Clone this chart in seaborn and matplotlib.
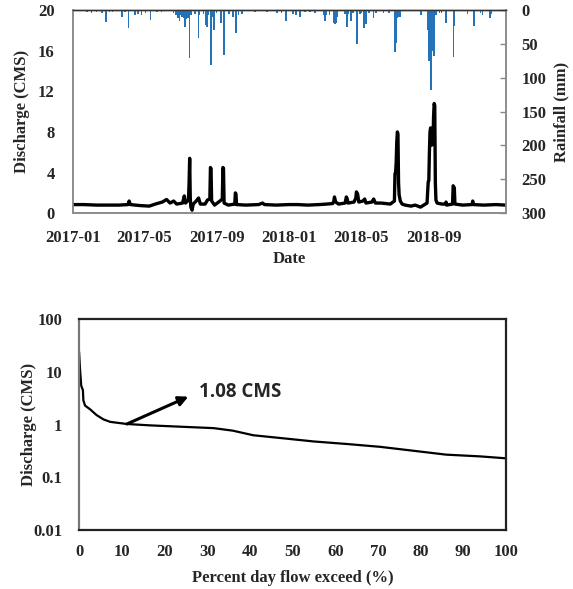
import numpy as np
import pandas as pd
import matplotlib
matplotlib.use("Agg")
import matplotlib.pyplot as plt
import matplotlib.dates as mdates
import seaborn as sns

# ---------------- data ----------------
q_dates = [
    "2017-01-01", "2017-01-20", "2017-02-10", "2017-03-01", "2017-03-20", "2017-04-04", "2017-04-06",
    "2017-04-08", "2017-04-25", "2017-05-10", "2017-05-20", "2017-06-01", "2017-06-08", "2017-06-14",
    "2017-06-20", "2017-06-25", "2017-07-05", "2017-07-08", "2017-07-10", "2017-07-15", "2017-07-16",
    "2017-07-17", "2017-07-18", "2017-07-19", "2017-07-21", "2017-07-23", "2017-07-28", "2017-08-01",
    "2017-08-04", "2017-08-12", "2017-08-16", "2017-08-20", "2017-08-21", "2017-08-22", "2017-08-23",
    "2017-08-28", "2017-09-06", "2017-09-10", "2017-09-11", "2017-09-12", "2017-09-13", "2017-09-20",
    "2017-10-01", "2017-10-02", "2017-10-03", "2017-10-04", "2017-10-20", "2017-11-10", "2017-11-17",
    "2017-11-20", "2017-12-10", "2017-12-31",
    "2018-01-15", "2018-02-01", "2018-02-20", "2018-03-05", "2018-03-15", "2018-03-17", "2018-03-18",
    "2018-03-20", "2018-03-25", "2018-04-05", "2018-04-07", "2018-04-08", "2018-04-10", "2018-04-20",
    "2018-04-23", "2018-04-24", "2018-04-26", "2018-04-28", "2018-05-05", "2018-05-08", "2018-05-10",
    "2018-05-20", "2018-05-23", "2018-05-26", "2018-06-05", "2018-06-20", "2018-06-27", "2018-06-28",
    "2018-06-29", "2018-06-30", "2018-07-01", "2018-07-02", "2018-07-03", "2018-07-04", "2018-07-05",
    "2018-07-07", "2018-07-10", "2018-07-15", "2018-07-25", "2018-08-01", "2018-08-10", "2018-08-21",
    "2018-08-23", "2018-08-24", "2018-08-25", "2018-08-26", "2018-08-27", "2018-08-28", "2018-08-29",
    "2018-08-30", "2018-08-31", "2018-09-01", "2018-09-02", "2018-09-03", "2018-09-04", "2018-09-05",
    "2018-09-07", "2018-09-15", "2018-09-21", "2018-09-22", "2018-09-23", "2018-10-03", "2018-10-04",
    "2018-10-05", "2018-10-06", "2018-10-07", "2018-10-20", "2018-11-05", "2018-11-06", "2018-11-07",
    "2018-11-25", "2018-12-15", "2018-12-31",
]
q_values = [
    0.85, 0.85, 0.8, 0.8, 0.8, 0.85, 1.2,
    0.85, 0.75, 0.7, 0.9, 1.1, 1.35, 1.0,
    1.2, 0.9, 1.0, 1.7, 1.0, 1.3, 3.0,
    5.4, 1.5, 0.6, 0.3, 0.9, 1.2, 1.5,
    0.9, 0.9, 1.3, 1.4, 4.5, 4.4, 1.2,
    0.8, 1.2, 1.4, 4.5, 4.4, 1.0, 0.8,
    0.9, 2.0, 1.9, 0.85, 0.8, 0.85, 1.0,
    0.85, 0.8, 0.85,
    0.85, 0.8, 0.85, 0.9, 0.95, 1.2, 1.6,
    1.1, 0.9, 1.0, 1.6, 1.5, 1.0, 1.1,
    1.5, 2.1, 1.9, 1.1, 1.2, 1.4, 1.0,
    1.1, 1.4, 1.0, 1.0, 0.9, 1.2, 3.9,
    4.0, 5.0, 7.0, 8.0, 7.8, 3.0, 1.8,
    1.2, 0.9, 0.8, 0.7, 0.8, 0.6, 1.0,
    3.1, 3.2, 6.0, 8.0, 8.4, 7.0, 6.7,
    6.8, 7.0, 9.5, 10.8, 10.6, 3.0, 1.3,
    1.0, 0.9, 0.9, 1.1, 0.8, 0.9, 2.7,
    2.6, 2.5, 0.9, 0.8, 0.85, 1.2, 0.85,
    0.8, 0.85, 0.8,
]

rain_dates = [
    "2017-01-09", "2017-01-25", "2017-02-02", "2017-02-10", "2017-02-19", "2017-02-26", "2017-03-04",
    "2017-03-09", "2017-03-25", "2017-03-30", "2017-04-05", "2017-04-16", "2017-04-21", "2017-04-27",
    "2017-05-04", "2017-05-12", "2017-05-23", "2017-05-31", "2017-06-08", "2017-06-20", "2017-06-24",
    "2017-06-27", "2017-06-30", "2017-07-02", "2017-07-04", "2017-07-05", "2017-07-07", "2017-07-09",
    "2017-07-10", "2017-07-12", "2017-07-14", "2017-07-16", "2017-07-17", "2017-07-19", "2017-07-26",
    "2017-08-01", "2017-08-03", "2017-08-09", "2017-08-13", "2017-08-15", "2017-08-18", "2017-08-22",
    "2017-08-24", "2017-08-27", "2017-08-31", "2017-09-08", "2017-09-13", "2017-09-21", "2017-09-28",
    "2017-10-03", "2017-10-07", "2017-10-13", "2017-11-04", "2017-11-24", "2017-12-11", "2017-12-19",
    "2017-12-26",
    "2018-01-07", "2018-01-12", "2018-01-19", "2018-01-27", "2018-02-05", "2018-02-13", "2018-02-28",
    "2018-03-02", "2018-03-05", "2018-03-10", "2018-03-17", "2018-03-19", "2018-03-21", "2018-03-22",
    "2018-04-05", "2018-04-08", "2018-04-11", "2018-04-15", "2018-04-18", "2018-04-25", "2018-04-30",
    "2018-05-03", "2018-05-07", "2018-05-10", "2018-05-15", "2018-05-23", "2018-05-27", "2018-06-09",
    "2018-06-18", "2018-06-28", "2018-06-29", "2018-07-01", "2018-07-02", "2018-07-03", "2018-07-04",
    "2018-07-05", "2018-07-07", "2018-08-11", "2018-08-22", "2018-08-24", "2018-08-25", "2018-08-27",
    "2018-08-28", "2018-08-29", "2018-08-30", "2018-08-31", "2018-09-02", "2018-09-04", "2018-09-06",
    "2018-09-11", "2018-09-14", "2018-09-22", "2018-10-05", "2018-10-06", "2018-10-28", "2018-11-08",
    "2018-11-09", "2018-11-19", "2018-11-22", "2018-12-05", "2018-12-07", "2018-12-24",
]
rain_mm = [
    2, 3, 4, 3, 4, 17, 3,
    3, 11, 3, 27, 8, 6, 7,
    5, 15, 3, 3, 2, 4, 8,
    12, 16, 8, 10, 9, 12, 25,
    10, 14, 12, 10, 71, 8, 6,
    41, 8, 6, 22, 25, 8, 81,
    10, 30, 5, 19, 66, 6, 10,
    34, 8, 6, 3, 3, 4, 4,
    16,
    6, 7, 11, 3, 3, 5, 8,
    16, 7, 7, 19, 20, 19, 10,
    6, 25, 6, 16, 5, 50, 6,
    5, 26, 20, 4, 12, 5, 4,
    5, 62, 50, 49, 12, 10, 10,
    10, 10, 7, 30, 76, 70, 40,
    118, 78, 60, 55, 68, 8, 8,
    5, 5, 19, 69, 23, 6, 23,
    6, 5, 7, 12, 6, 2,
]

fdc_percent = [0, 0.2, 0.5, 0.9, 1.0, 1.4, 2.6, 4.1, 5.7, 7.3, 11.2, 16.6, 24.4, 31.5,
               36.0, 40.8, 47.0, 55.0, 62.7, 70.5, 78.3, 86.0, 94.0, 100]
fdc_discharge = [24, 12, 5.5, 4.5, 2.9, 2.3, 1.95, 1.52, 1.26, 1.13, 1.03, 0.97, 0.91, 0.86,
                 0.77, 0.63, 0.56, 0.48, 0.43, 0.38, 0.32, 0.27, 0.25, 0.23]

date_ticks = ["2017-01-01", "2017-05-01", "2017-09-01", "2018-01-01", "2018-05-01", "2018-09-01", "2019-01-01"]
date_tick_labels = ["2017-01", "2017-05", "2017-09", "2018-01", "2018-05", "2018-09", ""]
q_ticks = [0, 4, 8, 12, 16, 20]
rain_ticks = [0, 50, 100, 150, 200, 250, 300]
fdc_xticks = [0, 10, 20, 30, 40, 50, 60, 70, 80, 90, 100]
fdc_yticks = [0.01, 0.1, 1, 10, 100]
fdc_ytick_labels = ["0.01", "0.1", "1", "10", "100"]
annot_value = "1.08 CMS"

# ---------------- style ----------------
sns.set_theme(style="white")
plt.rcParams["font.family"] = ["Liberation Serif", "DejaVu Serif"]
plt.rcParams["font.weight"] = "bold"
plt.rcParams["axes.labelweight"] = "bold"

FS = 12
fig = plt.figure(figsize=(5.73, 5.89), dpi=100)

# ---------------- top panel ----------------
ax1 = fig.add_axes([0.127, 0.638, 0.756, 0.345])
ax2 = ax1.twinx()

dfq = pd.DataFrame({"date": pd.to_datetime(q_dates), "q": q_values})
sns.lineplot(data=dfq, x="date", y="q", ax=ax1, color="black", lw=2.4,
             estimator=None, sort=True, zorder=3)

rd = pd.to_datetime(rain_dates)
ax2.bar(rd, rain_mm, width=2.4, color="#2672b8", linewidth=0, align="center")
ax2.set_ylim(300, 0)
ax2.set_yticks(rain_ticks)
ax2.set_yticklabels([str(t) for t in rain_ticks], fontsize=FS, fontweight="bold")
ax2.set_ylabel("Rainfall (mm)", fontsize=FS, fontweight="bold", labelpad=5)

ax1.set_ylim(0, 20)
ax1.set_yticks(q_ticks)
ax1.set_yticklabels([str(t) for t in q_ticks], fontsize=FS, fontweight="bold")
ax1.set_xlim(pd.Timestamp("2017-01-01"), pd.Timestamp("2019-01-01"))
ax1.set_xticks(pd.to_datetime(date_ticks))
ax1.set_xticklabels(date_tick_labels, fontsize=FS, fontweight="bold")
ax1.set_xlabel("Date", fontsize=FS, fontweight="bold", labelpad=4)
ax1.set_ylabel("Discharge (CMS)", fontsize=FS, fontweight="bold", labelpad=6)

ax1.tick_params(axis="x", direction="out", length=4, width=1, color="#888888", pad=8)
ax1.tick_params(axis="y", length=0, pad=13)
ax2.tick_params(axis="y", direction="in", length=4, width=1, color="#888888", pad=11)

for ax in (ax1, ax2):
    for side in ("left", "bottom", "right"):
        ax.spines[side].set_color("#8c8c8c")
        ax.spines[side].set_linewidth(1.2)
    ax.spines["top"].set_color("#333333")
    ax.spines["top"].set_linewidth(1.0)

# ---------------- bottom panel ----------------
ax3 = fig.add_axes([0.138, 0.100, 0.745, 0.358])
dff = pd.DataFrame({"p": fdc_percent, "q": fdc_discharge})
sns.lineplot(data=dff, x="p", y="q", ax=ax3, color="black", lw=1.6, estimator=None, sort=False)
ax3.set_yscale("log")
ax3.set_ylim(0.01, 100)
ax3.set_xlim(0, 100)
ax3.set_yticks(fdc_yticks)
ax3.set_yticklabels(fdc_ytick_labels, fontsize=FS, fontweight="bold")
ax3.minorticks_off()
ax3.set_xticks(fdc_xticks)
ax3.set_xticklabels([str(t) for t in fdc_xticks], fontsize=FS, fontweight="bold")
ax3.tick_params(axis="x", length=0, pad=10)
ax3.tick_params(axis="y", length=0, pad=12)
ax3.set_xlabel("Percent day flow exceed (%)", fontsize=FS, fontweight="bold", labelpad=7)
ax3.set_ylabel("Discharge (CMS)", fontsize=FS, fontweight="bold", labelpad=-3)
for side in ("top", "right", "bottom"):
    ax3.spines[side].set_color("#222222")
    ax3.spines[side].set_linewidth(1.6)
ax3.spines["left"].set_color("#777777")
ax3.spines["left"].set_linewidth(1.6)

ax3.annotate("", xy=(25.6, 3.4), xytext=(11.2, 1.03),
             arrowprops=dict(arrowstyle="-|>", color="black", lw=2.2, mutation_scale=14,
                             shrinkA=0, shrinkB=0))
ax3.text(28.2, 4.2, annot_value, fontsize=13.5, fontweight="bold",
         family=["Open Sans", "DejaVu Sans"], va="center", ha="left")

fig.savefig("out.png", dpi=100)
